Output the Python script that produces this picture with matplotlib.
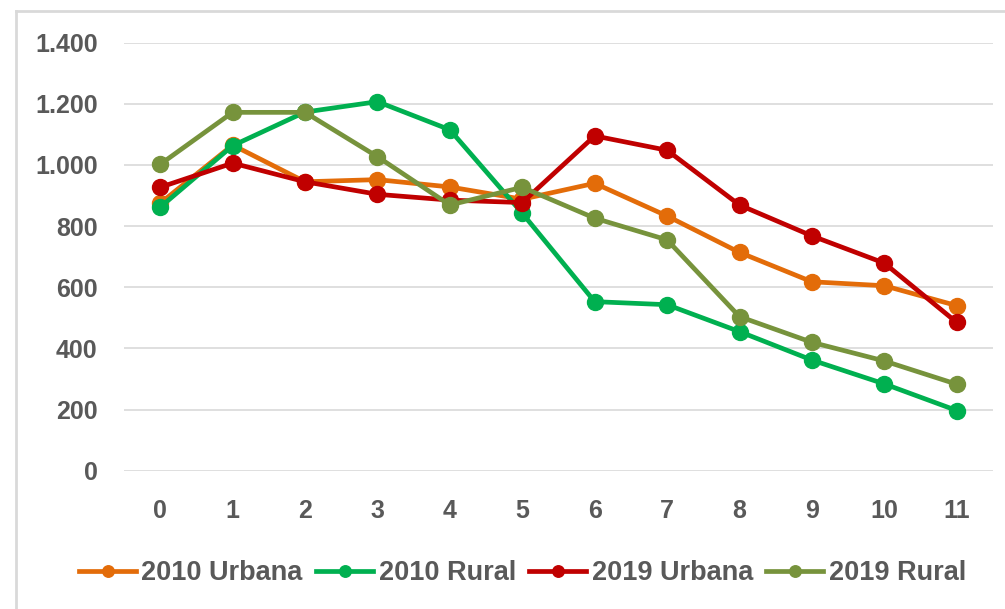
import matplotlib.pyplot as plt
from matplotlib.lines import Line2D

# datos
edades = list(range(12))
urbana_2010 = [875, 1065, 945, 952, 928, 888, 940, 833, 714, 618, 605, 540]
rural_2010 = [862, 1063, 1173, 1207, 1115, 842, 553, 543, 455, 362, 284, 197]
urbana_2019 = [927, 1006, 945, 904, 885, 877, 1095, 1048, 869, 768, 679, 485]
rural_2019 = [1002, 1172, 1172, 1027, 869, 927, 826, 755, 504, 420, 359, 283]

series = [
    ("2010 Urbana", urbana_2010, "#E36C09"),
    ("2010 Rural", rural_2010, "#00B050"),
    ("2019 Urbana", urbana_2019, "#C00000"),
    ("2019 Rural", rural_2019, "#77933C"),
]
yticks = [0, 200, 400, 600, 800, 1000, 1200, 1400]
ytick_labels = ["0", "200", "400", "600", "800", "1.000", "1.200", "1.400"]

plt.rcParams['font.family'] = ['Liberation Sans', 'DejaVu Sans']
gris = "#595959"

fig = plt.figure(figsize=(10.05, 6.09), dpi=100)
ax = fig.add_axes([0.1234, 0.227, 0.8646, 0.703])

for nombre, valores, color in series:
    ax.plot(edades, valores, color=color, lw=3.4, marker='o', ms=11.5,
            label=nombre, solid_joinstyle='round')

ax.set_xlim(-0.5, 11.5)
ax.set_ylim(0, 1400)
ax.set_yticks(yticks)
ax.set_yticklabels(ytick_labels)
ax.set_xticks(edades)
ax.grid(axis='y', color='#D9D9D9', lw=1.2)
ax.set_axisbelow(True)
for s in ax.spines.values():
    s.set_visible(False)
ax.tick_params(axis='both', length=0, labelsize=18, labelcolor=gris)
ax.tick_params(axis='y', pad=19)
ax.tick_params(axis='x', pad=20)
for lbl in ax.get_xticklabels() + ax.get_yticklabels():
    lbl.set_fontweight('bold')

leg = fig.legend(loc='center', bbox_to_anchor=(0.52, 0.059), ncol=4,
                 frameon=False, handlelength=2.1, handletextpad=0.2,
                 columnspacing=0.5, markerscale=0.72,
                 prop={'size': 19.5, 'weight': 'bold'})
for t in leg.get_texts():
    t.set_color(gris)

# borde del area del grafico
fig.add_artist(Line2D([16 / 1005, 16 / 1005], [1 - 11 / 609, 0], color='#D9D9D9', lw=2))
fig.add_artist(Line2D([16 / 1005, 1], [1 - 11 / 609, 1 - 11 / 609], color='#D9D9D9', lw=2))

fig.savefig("out.png", dpi=100)
